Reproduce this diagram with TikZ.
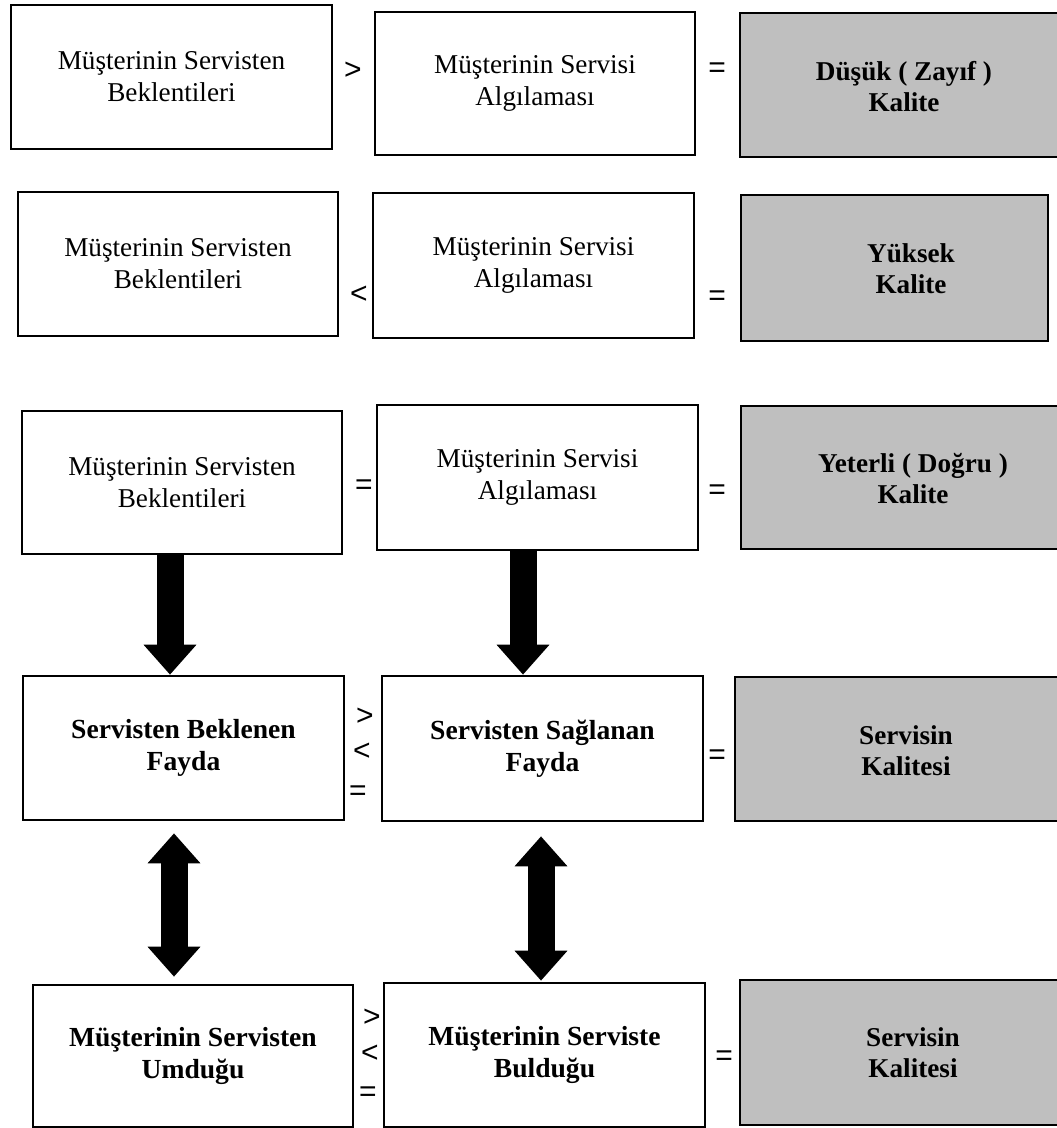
\documentclass[tikz,border=0pt]{standalone}
\usepackage{fontspec}
\setmainfont{Liberation Serif}
\newfontfamily\relfont{Liberation Sans}
\usetikzlibrary{arrows.meta}

\begin{document}
\begin{tikzpicture}[x=0.5pt,y=-0.5pt,
  box/.style={draw=black,line width=1.3pt,fill=white,align=center,inner sep=0pt,
    font=\fontsize{13.6}{16}\selectfont},
  boldbox/.style={box,font=\fontsize{13.8}{16}\selectfont\bfseries},
  quality/.style={draw=black,line width=1.3pt,fill=black!25,inner sep=0pt},
  qlabel/.style={align=center,inner sep=0pt,font=\fontsize{13.6}{15.5}\selectfont\bfseries},
  rel/.style={inner sep=0pt,font=\relfont\fontsize{15}{15}\selectfont},
  down/.style={draw=black,line width=13.5pt,-{Triangle[width=25.5pt,length=15pt]}},
  both/.style={draw=black,line width=13.5pt,
    {Triangle[width=25.5pt,length=15pt]}-{Triangle[width=25.5pt,length=15pt]}},
]
\useasboundingbox (0,0) rectangle (1056,1128);

% Row 1: expectations above perception
\node[box,minimum width=160.5pt,minimum height=72pt] (A1) at (171.5,77) {Müşterinin Servisten\\Beklentileri};
\node[box,minimum width=160pt,minimum height=71.5pt] (A2) at (535,83.5) {Müşterinin Servisi\\Algılaması};
\node[quality,minimum width=161pt,minimum height=72pt] (A3) at (901,85) {};
\node[qlabel] (A3t) at (904,87) {Düşük ( Zayıf )\\Kalite};
\node[rel] (A12) at (353,71) {>};
\node[rel] (A23) at (717,70) {=};

% Row 2: expectations below perception
\node[box,minimum width=160pt,minimum height=72pt] (B1) at (178,264) {Müşterinin Servisten\\Beklentileri};
\node[box,minimum width=160.5pt,minimum height=72.5pt] (B2) at (533.5,265.5) {Müşterinin Servisi\\Algılaması};
\node[quality,minimum width=153.5pt,minimum height=73pt] (B3) at (894.5,268) {};
\node[qlabel] (B3t) at (911,269) {Yüksek\\Kalite};
\node[rel] (B12) at (359,295) {<};
\node[rel] (B23) at (717,298) {=};

% Row 3: expectations equal to perception
\node[box,minimum width=160pt,minimum height=71.5pt] (C1) at (182,482.5) {Müşterinin Servisten\\Beklentileri};
\node[box,minimum width=160.5pt,minimum height=72.5pt] (C2) at (537.5,477.5) {Müşterinin Servisi\\Algılaması};
\node[quality,minimum width=160.5pt,minimum height=71.5pt] (C3) at (901.5,477.5) {};
\node[qlabel] (C3t) at (913,479) {Yeterli ( Doğru )\\Kalite};
\node[rel] (C12) at (364,487) {=};
\node[rel] (C23) at (717,492) {=};

% Row 4: expected versus delivered benefit
\node[boldbox,minimum width=160.5pt,minimum height=72pt] (D1) at (183.5,748) {Servisten Beklenen\\Fayda};
\node[boldbox,minimum width=160.5pt,minimum height=72.5pt] (D2) at (542.5,748.5) {Servisten Sağlanan\\Fayda};
\node[quality,minimum width=163.5pt,minimum height=72pt] (D3) at (898.5,749) {};
\node[qlabel] (D3t) at (906,751) {Servisin\\Kalitesi};
\node[rel] (D12a) at (365,717) {>};
\node[rel] (D12b) at (362,752) {<};
\node[rel] (D12c) at (358,793) {=};
\node[rel] (D23) at (717,757) {=};

% Row 5: hoped-for versus found
\node[boldbox,minimum width=160pt,minimum height=71pt] (E1) at (193,1056) {Müşterinin Servisten\\Umduğu};
\node[boldbox,minimum width=160.5pt,minimum height=72pt] (E2) at (544.5,1055) {Müşterinin Serviste\\Bulduğu};
\node[quality,minimum width=161pt,minimum height=72.5pt] (E3) at (901,1052.5) {};
\node[qlabel] (E3t) at (913,1053) {Servisin\\Kalitesi};
\node[rel] (E12a) at (372,1018) {>};
\node[rel] (E12b) at (370,1054) {<};
\node[rel] (E12c) at (368,1094) {=};
\node[rel] (E23) at (724,1058) {=};

% Arrow columns
\coordinate (xa) at (170,0);
\coordinate (xb) at (523,0);
\coordinate (xc) at (174,0);
\coordinate (xd) at (541,0);

\draw[down] (C1.south -| xa) -- (D1.north -| xa);
\draw[down] (C2.south -| xb) -- (D2.north -| xb);
\draw[both,shorten <=6pt,shorten >=3.5pt] (D1.south -| xc) -- (E1.north -| xc);
\draw[both,shorten <=7pt,shorten >=0.5pt] (D2.south -| xd) -- (E2.north -| xd);
\end{tikzpicture}
\end{document}
